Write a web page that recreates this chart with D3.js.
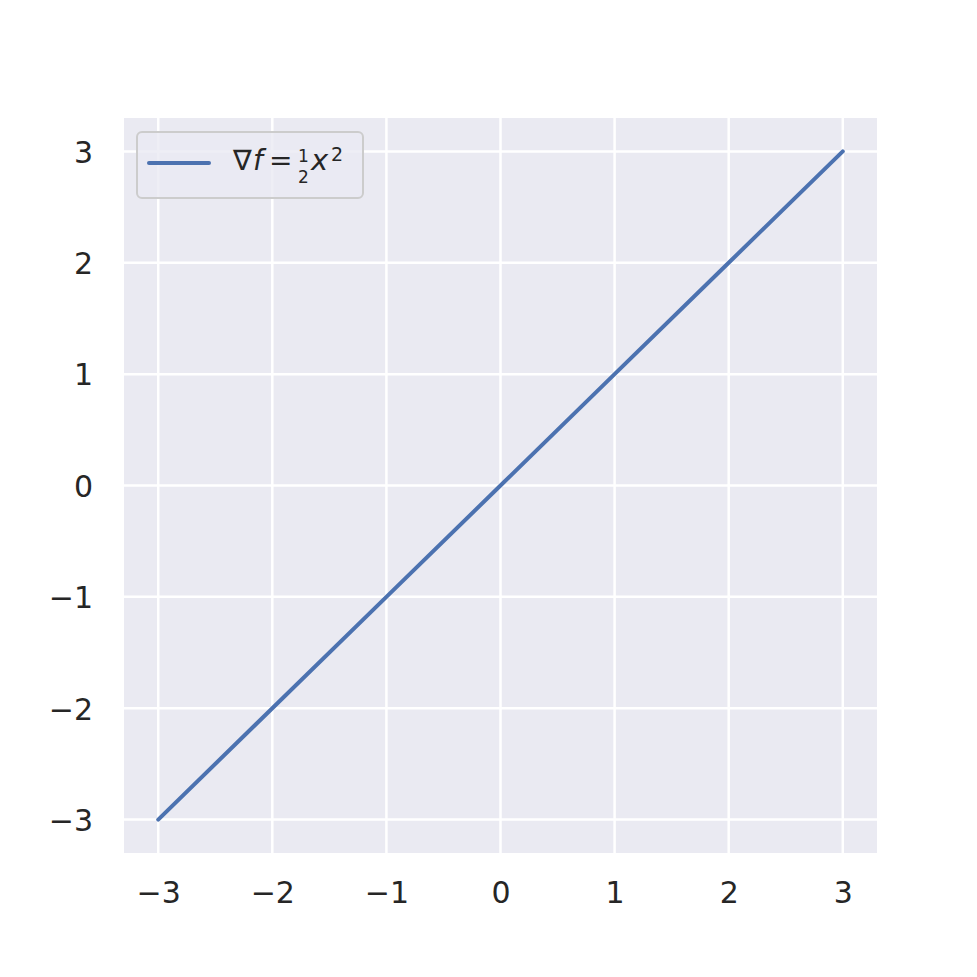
<!DOCTYPE html>
<html>
<head>
<meta charset="utf-8">
<script src="https://cdn.jsdelivr.net/npm/d3@7"></script>
<style>
  body { margin: 0; background: #fff; }
  text { font-family: "DejaVu Sans", sans-serif; }
</style>
</head>
<body>
<div id="chart"></div>
<script>
// data: the gradient line y = x
var xValues = [-3, -2, -1, 0, 1, 2, 3];
var yValues = [-3, -2, -1, 0, 1, 2, 3];
var xTicks = [-3, -2, -1, 0, 1, 2, 3];
var yTicks = [-3, -2, -1, 0, 1, 2, 3];

var W = 977, H = 977;
var margin = {top: 118, right: 100, bottom: 124, left: 124};
var width = W - margin.left - margin.right,
    height = H - margin.top - margin.bottom;

var svg = d3.select("#chart").append("svg")
    .attr("width", W)
    .attr("height", H);

var g = svg.append("g")
    .attr("transform", "translate(" + margin.left + "," + margin.top + ")");

var x = d3.scaleLinear().domain([-3.3, 3.3]).range([0, width]);
var y = d3.scaleLinear().domain([-3.3, 3.3]).range([height, 0]);

// background
g.append("rect")
    .attr("width", width)
    .attr("height", height)
    .attr("fill", "#eaeaf2");

// grid lines
g.selectAll("line.vgrid").data(xTicks).enter().append("line")
    .attr("class", "vgrid")
    .attr("x1", function(d) { return x(d); })
    .attr("x2", function(d) { return x(d); })
    .attr("y1", 0).attr("y2", height)
    .attr("stroke", "#fff").attr("stroke-width", 2.5);

g.selectAll("line.hgrid").data(yTicks).enter().append("line")
    .attr("class", "hgrid")
    .attr("y1", function(d) { return y(d); })
    .attr("y2", function(d) { return y(d); })
    .attr("x1", 0).attr("x2", width)
    .attr("stroke", "#fff").attr("stroke-width", 2.5);

// axes (labels only, seaborn darkgrid has no spines/ticks)
var fmt = function(d) { return d < 0 ? "\u2212" + Math.abs(d) : "" + d; };

var xAxis = g.append("g")
    .attr("transform", "translate(0," + height + ")")
    .call(d3.axisBottom(x).tickValues(xTicks).tickFormat(fmt).tickSize(0).tickPadding(29));
var yAxis = g.append("g")
    .call(d3.axisLeft(y).tickValues(yTicks).tickFormat(fmt).tickSize(0).tickPadding(31));

[xAxis, yAxis].forEach(function(a) {
  a.select(".domain").remove();
  a.selectAll("text")
    .attr("font-family", "DejaVu Sans, sans-serif")
    .attr("font-size", 30)
    .attr("fill", "#262626");
});
yAxis.selectAll("text").attr("dy", "0.36em");

// the line
var line = d3.line()
    .x(function(d, i) { return x(xValues[i]); })
    .y(function(d, i) { return y(yValues[i]); });

g.append("path")
    .datum(xValues)
    .attr("d", line)
    .attr("fill", "none")
    .attr("stroke", "#4c72b0")
    .attr("stroke-width", 4)
    .attr("stroke-linecap", "round");

// legend
var leg = svg.append("g").attr("transform", "translate(137,132)");
leg.append("rect")
    .attr("width", 226).attr("height", 66)
    .attr("rx", 5)
    .attr("fill", "#eaeaf2").attr("fill-opacity", 0.8)
    .attr("stroke", "#cccccc").attr("stroke-width", 2);
leg.append("line")
    .attr("x1", 12).attr("x2", 72)
    .attr("y1", 31).attr("y2", 31)
    .attr("stroke", "#4c72b0").attr("stroke-width", 4)
    .attr("stroke-linecap", "round");

// legend label: ∇f = ½x² built as one text with positioned tspans
var lbl = leg.append("text").attr("fill", "#262626").attr("font-size", 28);
lbl.append("tspan").attr("x", 96).attr("y", 38).text("\u2207");
lbl.append("tspan").attr("x", 116).attr("y", 38).attr("font-style", "italic").text("f");
lbl.append("tspan").attr("x", 132).attr("y", 38).text("=");
lbl.append("tspan").attr("x", 161).attr("y", 30).attr("font-size", 17).text("1");
lbl.append("tspan").attr("x", 161).attr("y", 51).attr("font-size", 17).text("2");
lbl.append("tspan").attr("x", 174).attr("y", 38).attr("font-style", "italic").attr("font-size", 29).text("x");
lbl.append("tspan").attr("x", 194).attr("y", 29).attr("font-size", 19).text("2");
</script>
</body>
</html>
